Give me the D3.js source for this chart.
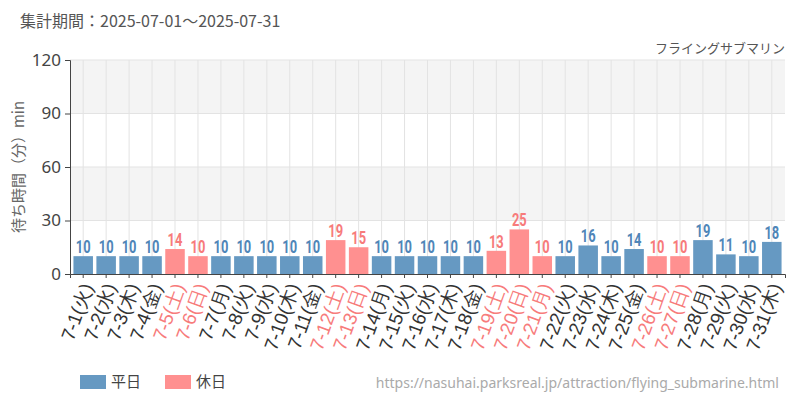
<!DOCTYPE html>
<html><head><meta charset="utf-8">
<script src="https://cdn.jsdelivr.net/npm/d3@7"></script>
<style>body{margin:0;background:#fff}</style>
</head><body>
<script>
// data
const days = ["7-1(火)","7-2(水)","7-3(木)","7-4(金)","7-5(土)","7-6(日)","7-7(月)","7-8(火)","7-9(水)","7-10(木)","7-11(金)","7-12(土)","7-13(日)","7-14(月)","7-15(火)","7-16(水)","7-17(木)","7-18(金)","7-19(土)","7-20(日)","7-21(月)","7-22(火)","7-23(水)","7-24(木)","7-25(金)","7-26(土)","7-27(日)","7-28(月)","7-29(火)","7-30(水)","7-31(木)"];
const waits = [10,10,10,10,14,10,10,10,10,10,10,19,15,10,10,10,10,10,13,25,10,10,16,10,14,10,10,19,11,10,18];
const holidays = [0,0,0,0,1,1,0,0,0,0,0,1,1,0,0,0,0,0,1,1,1,0,0,0,0,1,1,0,0,0,0];
const yTicks = [0,30,60,90,120];

const width = 800, height = 400;
const m = {left: 70, right: 785, top: 60, bottom: 274};
const blue = "#6699c2", red = "#ff9090";
const blueText = "#4f86b8", redText = "#f77b7b";

const svg = d3.select("body").append("svg")
    .attr("width", width).attr("height", height)
    .style("font-family", "'Noto Sans CJK JP', 'Noto Sans', sans-serif");

const x = d3.scaleBand().domain(days).range([m.left, m.right]).padding(0.15);
const y = d3.scaleLinear().domain([0, 120]).range([m.bottom, m.top]);

// background bands
svg.append("g").selectAll("rect")
  .data([[30,60],[90,120]])
  .join("rect")
    .attr("x", m.left).attr("width", m.right - m.left)
    .attr("y", d => y(d[1])).attr("height", d => y(d[0]) - y(d[1]))
    .attr("fill", "#f4f4f4");

// grid
svg.append("g").selectAll("line")
  .data(days).join("line")
    .attr("x1", d => x(d) + x.bandwidth() / 2).attr("x2", d => x(d) + x.bandwidth() / 2)
    .attr("y1", m.top).attr("y2", m.bottom)
    .attr("stroke", "#e3e3e3");
svg.append("g").selectAll("line")
  .data(yTicks.slice(1)).join("line")
    .attr("x1", m.left).attr("x2", m.right)
    .attr("y1", y).attr("y2", y)
    .attr("stroke", "#e3e3e3");

// bars
svg.append("g").selectAll("rect")
  .data(waits).join("rect")
    .attr("x", (d, i) => x(days[i]))
    .attr("width", x.bandwidth())
    .attr("y", d => y(d))
    .attr("height", d => y(0) - y(d))
    .attr("fill", (d, i) => holidays[i] ? red : blue);

// value labels
svg.append("g").selectAll("text")
  .data(waits).join("text")
    .attr("transform", (d, i) => `translate(${x(days[i]) + x.bandwidth() / 2},${y(d) - 3}) scale(0.68,1)`)
    .attr("text-anchor", "middle")
    .attr("font-family", "Roboto, sans-serif")
    .attr("font-weight", "bold")
    .attr("font-size", 19)
    .attr("fill", (d, i) => holidays[i] ? redText : blueText)
    .text(d => d);

// y axis
const yAxis = svg.append("g")
    .attr("transform", `translate(${m.left},0)`)
    .call(d3.axisLeft(y).tickValues(yTicks).tickSize(5).tickPadding(4));
yAxis.select(".domain").attr("stroke", "#444");
yAxis.selectAll("line").attr("stroke", "#444");
yAxis.selectAll("text").attr("font-size", 17).attr("fill", "#444")
    .attr("font-family", "'Noto Sans', sans-serif");

// x axis
const xAxis = svg.append("g")
    .attr("transform", `translate(0,${m.bottom})`)
    .call(d3.axisBottom(x).tickSize(4));
xAxis.select(".domain").attr("stroke", "#444");
xAxis.selectAll("line").attr("stroke", "#444");
xAxis.selectAll("text")
    .attr("font-size", 19)
    .attr("font-weight", 500)
    .attr("fill", (d, i) => holidays[i] ? redText : "#333")
    .attr("text-anchor", "end")
    .attr("dy", "0.35em")
    .attr("transform", "translate(4,10) rotate(-70) ")
    .attr("y", 0).attr("x", 0);

// y title
svg.append("text")
    .attr("transform", `translate(24,${(m.top + m.bottom) / 2}) rotate(-90)`)
    .attr("text-anchor", "middle")
    .attr("font-size", 15).attr("fill", "#666")
    .text("待ち時間（分）min");

// header
svg.append("text").attr("x", 20).attr("y", 27)
    .attr("font-size", 16).attr("fill", "#555")
    .text("集計期間：2025-07-01～2025-07-31");
svg.append("text").attr("x", 785).attr("y", 53).attr("text-anchor", "end")
    .attr("font-size", 13).attr("fill", "#555")
    .text("フライングサブマリン");

// legend
const legend = svg.append("g").attr("transform", "translate(80,375)");
[["平日", blue], ["休日", red]].forEach((d, i) => {
  const g = legend.append("g").attr("transform", `translate(${i * 85},0)`);
  g.append("rect").attr("width", 26).attr("height", 14).attr("fill", d[1]);
  g.append("text").attr("x", 31).attr("y", 12).attr("font-size", 15).attr("fill", "#444").text(d[0]);
});

svg.append("text").attr("x", 779).attr("y", 388).attr("text-anchor", "end")
    .attr("font-size", 14).attr("fill", "#aaa")
    .attr("font-family", "'Noto Sans', sans-serif")
    .text("https://nasuhai.parksreal.jp/attraction/flying_submarine.html");
</script>
</body></html>
